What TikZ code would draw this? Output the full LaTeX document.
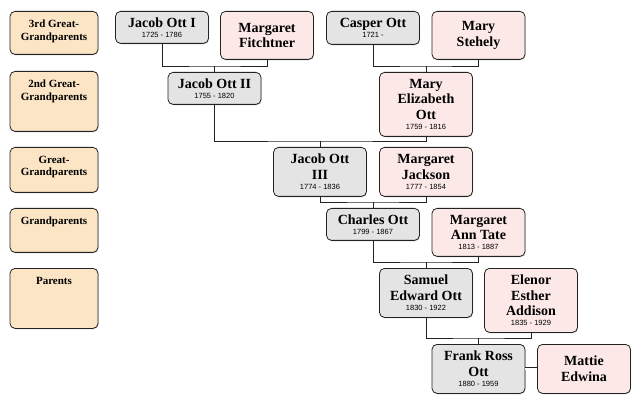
\documentclass[tikz,border=0pt]{standalone}
\usepackage{fontspec}
\setmainfont{Liberation Serif}
\setsansfont{Liberation Sans}
\usepackage{tikz}
\usetikzlibrary{positioning, shadows}
\definecolor{genpeach}{RGB}{252,229,196}
\definecolor{ottgray}{RGB}{228,228,228}
\definecolor{wifepink}{RGB}{252,233,231}
\definecolor{linegray}{RGB}{35,35,35}
\newcommand{\namefont}{\fontsize{14}{15.5}\selectfont\bfseries}
\newcommand{\yrs}[1]{\\[-5.5pt]{\sffamily\mdseries\fontsize{7.5}{9}\selectfont #1}}
\tikzset{
  box/.style={rectangle, rounded corners=5pt, draw=linegray, line width=0.8pt,
    anchor=north, align=center, inner sep=2pt,
    drop shadow={shadow xshift=0.6pt, shadow yshift=-0.9pt, opacity=0.35}},
  genbox/.style={box, fill=genpeach, minimum width=88pt},
  gentext/.style={anchor=north, yshift=-9pt, inner sep=0pt, align=center,
    font=\fontsize{11}{12.5}\selectfont\bfseries},
  ottbox/.style={box, fill=ottgray, minimum width=93pt, font=\namefont},
  wifebox/.style={box, fill=wifepink, minimum width=93pt, font=\namefont},
  link/.style={line width=0.9pt, color=linegray},
}
\begin{document}
\begin{tikzpicture}[x=1pt, y=-1pt]
  \useasboundingbox (0,0) rectangle (640,406);
  % generation labels
  \node[genbox, minimum height=43pt, label={[gentext]north:{3rd Great-\\Grandparents}}] (gen3) at (54,11) {};
  \node[genbox, minimum height=60pt, label={[gentext]north:{2nd Great-\\Grandparents}}] (gen2) at (54,71) {};
  \node[genbox, minimum height=45pt, label={[gentext]north:{Great-\\Grandparents}}] (gen1) at (54,147) {};
  \node[genbox, minimum height=44pt, label={[gentext]north:{Grandparents}}] (grand) at (54,208) {};
  \node[genbox, minimum height=60pt, label={[gentext]north:{Parents}}] (parents) at (54,268) {};
  % people
  \node[ottbox, minimum height=32pt] (jacobI) at (162,11) {Jacob Ott I\yrs{1725 - 1786}};
  \node[wifebox, minimum height=48pt] (margaretF) at (267,11) {Margaret\\Fitchtner};
  \node[ottbox, minimum height=33pt] (casper) at (373,11) {Casper Ott\yrs{1721 -}};
  \node[wifebox, minimum height=48pt] (maryS) at (478.5,11) {Mary\\Stehely};
  \node[ottbox, minimum height=32pt] (jacobII) at (214.5,72) {Jacob Ott II\yrs{1755 - 1820}};
  \node[wifebox, minimum height=64pt] (maryE) at (426,72) {Mary\\Elizabeth\\Ott\yrs{1759 - 1816}};
  \node[ottbox, minimum height=49pt] (jacobIII) at (320,147) {Jacob Ott\\III\yrs{1774 - 1836}};
  \node[wifebox, minimum height=49pt] (margaretJ) at (426,147) {Margaret\\Jackson\yrs{1777 - 1854}};
  \node[ottbox, minimum height=32pt] (charles) at (373,208) {Charles Ott\yrs{1799 - 1867}};
  \node[wifebox, minimum height=48pt] (margaretT) at (478.5,208) {Margaret\\Ann Tate\yrs{1813 - 1887}};
  \node[ottbox, minimum height=49pt] (samuel) at (426,268) {Samuel\\Edward Ott\yrs{1830 - 1922}};
  \node[wifebox, minimum height=64pt] (elenor) at (531,268) {Elenor\\Esther\\Addison\yrs{1835 - 1929}};
  \node[ottbox, minimum height=49pt] (frank) at (478.5,344) {Frank Ross\\Ott\yrs{1880 - 1959}};
  \node[wifebox, minimum height=49pt] (mattie) at (584,344) {Mattie\\Edwina};
  % couples down to children
  \draw[link] (jacobI.south) |- ([yshift=6pt]jacobII.north) -| (margaretF.south);
  \draw[link] ([yshift=6pt]jacobII.north) -- (jacobII.north);
  \draw[link] (casper.south) |- ([yshift=6pt]maryE.north) -| (maryS.south);
  \draw[link] ([yshift=6pt]maryE.north) -- (maryE.north);
  \draw[link] (jacobII.south) |- ([yshift=6pt]jacobIII.north) -| (maryE.south);
  \draw[link] ([yshift=6pt]jacobIII.north) -- (jacobIII.north);
  \draw[link] (jacobIII.south) |- ([yshift=6pt]charles.north) -| (margaretJ.south);
  \draw[link] ([yshift=6pt]charles.north) -- (charles.north);
  \draw[link] (charles.south) |- ([yshift=6pt]samuel.north) -| (margaretT.south);
  \draw[link] ([yshift=6pt]samuel.north) -- (samuel.north);
  \draw[link] (samuel.south) |- ([yshift=6pt]frank.north) -| (elenor.south);
  \draw[link] ([yshift=6pt]frank.north) -- (frank.north);
  \draw[link, line width=0.7pt, double, double distance=1.6pt] (frank.east) -- (mattie.west);
\end{tikzpicture}
\end{document}
